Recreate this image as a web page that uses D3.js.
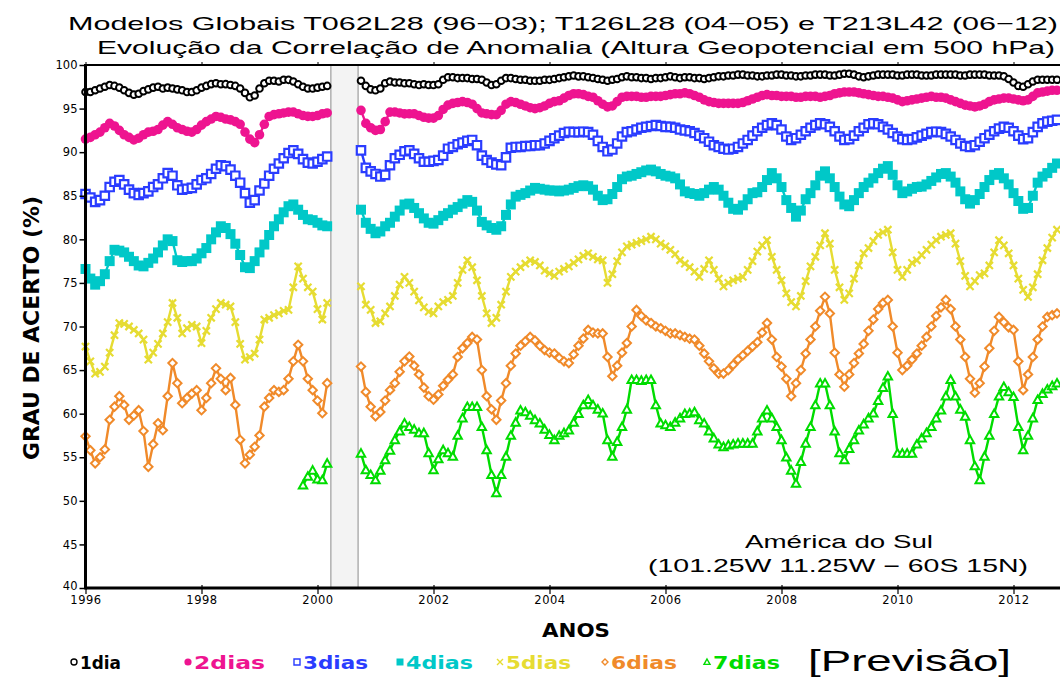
<!DOCTYPE html>
<html><head><meta charset="utf-8">
<script src="https://cdn.jsdelivr.net/npm/d3@7"></script>
<style>body{margin:0;background:#fff}</style>
</head><body>
<svg id="chart" width="1060" height="677"></svg>
<script>
// ---------- DATA ----------
const startYear = 1996;            // first monthly value = Jan 1996
const gapPeriod = [2000.23, 2000.70];
const xTicks = [1996, 1998, 2000, 2002, 2004, 2006, 2008, 2010, 2012];
const yTicks = [40, 45, 50, 55, 60, 65, 70, 75, 80, 85, 90, 95, 100];
const seriesNames = ["1dia", "2dias", "3dias", "4dias", "5dias", "6dias", "7dias"];
const GAP = [null, null, null, null, null, null]; // Apr-Sep 2000 missing

const dia1 = [
 96.9,96.9,97.1,97.3,97.5,97.7,97.6,97.4,97.1,96.8,96.6,96.7,
 97.0,97.2,97.4,97.5,97.3,97.4,97.3,97.2,97.1,96.9,96.9,97.1,
 97.4,97.6,97.8,97.9,97.8,97.8,97.7,97.6,97.3,96.8,96.3,96.5,
 97.3,97.9,98.2,98.2,98.1,98.3,98.3,98.1,97.8,97.5,97.3,97.3,
 97.4,97.5,97.6, ...GAP, 98.2,97.6,97.2,
 97.1,97.3,97.9,98.1,98.0,98.0,97.9,97.9,97.8,97.7,97.8,97.7,
 97.7,97.8,98.3,98.6,98.6,98.5,98.5,98.5,98.4,98.4,98.3,98.0,
 97.7,97.8,98.2,98.5,98.5,98.4,98.3,98.3,98.2,98.2,98.2,98.3,
 98.3,98.4,98.5,98.6,98.7,98.8,98.7,98.7,98.6,98.5,98.4,98.3,
 98.2,98.3,98.4,98.6,98.7,98.6,98.6,98.5,98.5,98.4,98.5,98.5,
 98.6,98.7,98.6,98.5,98.6,98.6,98.5,98.5,98.4,98.5,98.6,98.7,
 98.7,98.8,98.8,98.9,98.9,98.8,98.8,98.7,98.7,98.8,98.8,98.9,
 98.9,98.8,98.8,98.7,98.7,98.8,98.8,98.9,98.9,98.9,98.8,98.8,
 98.9,99.0,99.0,98.9,98.7,98.6,98.7,98.8,98.9,98.9,98.9,98.9,
 98.8,98.8,98.9,98.9,98.9,98.8,98.8,98.8,98.9,98.9,98.9,98.9,
 98.9,98.8,98.8,98.9,98.9,98.9,98.9,98.8,98.8,98.8,98.7,98.4,
 98.0,97.6,97.5,97.8,98.1,98.3,98.3,98.3,98.3,98.3
];
const dias2 = [
 91.5,91.7,92.0,92.3,92.8,93.3,93.0,92.5,92.0,91.7,91.4,91.6,
 92.0,92.3,92.4,92.6,93.1,93.5,93.2,92.8,92.6,92.4,92.3,92.6,
 93.1,93.5,93.8,94.1,94.0,93.8,93.7,93.5,93.2,92.3,91.5,91.1,
 92.0,93.2,94.1,94.3,94.4,94.5,94.6,94.6,94.4,94.2,94.1,94.1,
 94.2,94.4,94.5, ...GAP, 94.8,93.3,92.8,
 92.5,92.6,93.5,94.6,94.6,94.5,94.4,94.4,94.4,94.2,94.0,93.9,
 93.9,94.2,94.9,95.4,95.6,95.7,95.8,95.7,95.5,95.0,94.5,94.4,
 94.3,94.3,94.8,95.5,95.8,95.7,95.5,95.3,95.1,95.0,95.1,95.3,
 95.6,95.8,95.9,96.2,96.5,96.7,96.7,96.6,96.4,96.3,95.9,95.5,
 95.2,95.3,95.8,96.3,96.4,96.4,96.4,96.3,96.3,96.4,96.4,96.4,
 96.5,96.6,96.7,96.7,96.8,96.7,96.5,96.3,96.0,95.8,95.7,95.6,
 95.6,95.6,95.6,95.6,95.7,95.9,96.1,96.3,96.5,96.6,96.5,96.5,
 96.4,96.4,96.4,96.3,96.3,96.4,96.4,96.4,96.3,96.4,96.5,96.7,
 96.8,96.9,96.9,96.9,96.8,96.7,96.6,96.5,96.4,96.4,96.3,96.2,
 96.0,95.8,95.9,96.0,96.1,96.2,96.3,96.4,96.3,96.3,96.2,96.0,
 95.8,95.6,95.4,95.3,95.2,95.3,95.5,95.8,96.0,96.1,96.2,96.2,
 96.1,96.0,95.9,96.0,96.4,96.8,96.9,97.0,97.1,97.1
];
const dias3 = [
 85.2,84.8,84.3,84.5,85.0,86.0,86.6,86.8,86.3,85.7,85.3,85.1,
 85.3,85.5,86.0,86.3,87.0,87.6,87.3,86.2,85.7,85.8,85.9,86.3,
 86.8,87.0,87.5,88.1,88.5,88.4,88.0,87.3,86.5,85.3,84.2,84.5,
 85.6,86.4,87.3,88.1,88.7,89.3,89.9,90.2,89.8,89.2,88.8,88.7,
 88.9,89.2,89.5, ...GAP, 90.2,88.2,87.8,
 87.5,87.2,87.4,88.5,89.3,89.7,90.1,90.2,89.8,89.3,88.9,88.9,
 89.0,89.1,89.6,90.4,90.6,90.9,91.1,91.3,91.4,90.8,89.6,89.1,
 88.8,88.6,88.5,89.4,90.5,90.6,90.6,90.7,90.7,90.8,90.8,91.0,
 91.3,91.6,91.9,92.2,92.35,92.3,92.3,92.35,92.3,92.0,91.3,90.6,
 90.1,90.3,91.0,91.8,92.3,92.4,92.6,92.8,92.9,93.0,93.1,93.0,
 92.9,92.9,92.8,92.6,92.5,92.4,92.2,91.9,91.6,91.2,90.8,90.6,
 90.4,90.3,90.4,90.6,91.0,91.4,91.9,92.4,92.8,93.1,93.3,93.1,
 92.6,91.8,91.4,91.6,92.0,92.4,92.8,93.1,93.3,93.2,92.9,92.4,
 91.8,91.4,91.5,91.9,92.4,92.8,93.2,93.3,93.2,92.9,92.6,92.2,
 91.8,91.5,91.4,91.5,91.7,91.9,92.1,92.3,92.35,92.3,92.1,91.8,
 91.4,91.0,90.7,90.6,90.8,91.2,91.6,92.0,92.4,92.7,92.9,92.8,
 92.4,91.9,91.5,91.6,92.3,92.9,93.3,93.5,93.6,93.7
];
const dias4 = [
 76.6,75.5,74.8,75.2,76.0,77.5,78.8,78.7,78.5,78.0,77.5,77.0,
 76.9,77.3,77.8,78.5,79.3,80.0,79.8,77.6,77.4,77.5,77.5,77.8,
 78.4,79.0,80.0,80.8,81.5,81.3,80.6,79.5,78.2,76.8,76.7,77.5,
 78.5,79.4,80.5,81.5,82.3,83.1,83.8,84.0,83.4,82.8,82.3,82.2,
 81.9,81.6,81.5, ...GAP, 83.4,81.9,81.2,
 80.7,80.9,81.5,81.9,82.6,83.3,84.0,84.1,83.6,83.0,82.4,81.9,
 81.8,82.2,82.7,83.0,83.4,83.7,84.1,84.5,84.3,83.3,82.0,81.6,
 81.3,81.1,81.5,82.8,84.0,84.9,85.1,85.3,85.6,85.9,85.8,85.7,
 85.6,85.6,85.5,85.6,85.7,85.9,86.1,86.2,86.1,85.7,85.0,84.5,
 84.6,85.2,86.0,86.9,87.2,87.3,87.5,87.7,87.9,88.0,87.8,87.5,
 87.3,87.2,87.0,86.3,85.5,85.3,85.2,85.0,85.3,85.7,86.0,85.7,
 85.0,84.2,83.5,83.4,83.9,84.6,85.3,85.4,86.0,86.8,87.6,87.0,
 86.0,84.5,83.6,82.6,83.3,84.6,85.3,86.2,87.3,87.8,87.0,86.0,
 84.9,84.0,83.8,84.5,85.3,86.0,86.5,87.0,87.6,88.1,88.4,87.4,
 86.2,85.3,85.5,85.8,86.0,86.05,86.3,86.7,87.1,87.5,87.6,87.2,
 86.5,85.5,84.6,84.1,84.5,85.2,86.0,86.8,87.4,87.6,87.0,86.3,
 85.3,84.4,83.5,83.6,85.0,86.5,87.2,87.6,88.2,88.7
];
const dias5 = [
 67.7,66.0,64.6,64.8,65.4,67.0,69.0,70.4,70.3,70.0,69.6,69.2,
 68.5,66.2,67.0,68.0,69.2,70.5,72.7,71.0,69.2,69.8,70.2,70.0,
 68.1,69.5,71.0,72.0,72.7,72.5,72.3,70.5,68.0,66.2,66.5,66.9,
 68.5,70.8,71.0,71.3,71.5,71.8,71.9,74.5,76.9,75.5,74.5,74.0,
 72.0,70.8,72.7, ...GAP, 74.6,72.5,71.9,
 70.4,70.6,71.5,72.3,73.5,74.8,75.7,75.0,74.0,73.0,72.2,71.7,
 71.5,72.3,72.8,73.05,73.5,75.0,76.5,77.6,76.8,75.3,73.5,71.5,
 70.4,71.0,72.5,74.0,75.7,76.3,76.8,77.2,77.6,77.4,77.0,76.4,
 76.1,75.8,76.3,76.6,76.9,77.3,77.7,78.1,78.4,78.0,77.7,77.6,
 75.0,76.0,77.5,78.5,79.2,79.4,79.6,79.8,80.0,80.3,80.0,79.5,
 79.2,78.8,78.3,77.6,77.2,76.8,76.3,75.7,76.6,77.6,76.5,75.5,
 74.6,75.0,75.3,75.5,75.7,76.5,77.5,78.6,79.3,79.9,78.0,76.5,
 75.3,73.8,72.8,72.3,73.5,75.2,76.9,78.0,79.3,80.7,79.5,76.5,
 74.5,73.05,73.8,75.5,77.0,78.4,79.0,79.8,80.5,80.8,81.1,78.5,
 76.5,75.7,76.5,77.3,77.6,78.2,78.8,79.4,79.9,80.3,80.5,80.7,
 79.5,77.5,75.8,74.6,75.2,75.9,76.1,77.0,78.5,79.9,79.3,78.4,
 77.0,75.5,74.2,73.4,74.5,76.0,77.6,79.0,80.2,81.1
];
const dias6 = [
 57.4,55.8,54.3,55.0,55.9,59.3,60.8,62.0,61.0,59.3,59.8,60.4,
 58.0,53.9,56.5,58.9,58.1,62.0,65.8,63.5,61.2,61.8,62.3,62.7,
 60.4,61.8,63.5,65.2,64.0,62.7,64.1,61.0,57.0,54.3,55.3,56.2,
 57.5,60.8,61.8,62.7,62.5,62.7,64.0,66.0,67.9,66.0,64.0,62.7,
 61.5,60.05,63.5, ...GAP, 65.4,62.5,60.8,
 59.7,60.2,61.5,62.7,63.5,64.8,66.0,66.55,65.5,64.5,63.0,62.0,
 61.6,62.2,63.2,63.9,64.5,66.5,67.5,68.1,68.8,68.5,65.0,62.0,
 60.5,59.3,61.5,63.5,65.5,66.9,67.8,68.3,68.8,68.4,67.8,67.3,
 67.0,66.9,66.4,66.0,65.8,66.8,67.8,68.6,69.6,69.3,69.2,69.2,
 66.5,64.3,65.5,67.0,68.1,70.0,71.9,71.2,70.7,70.4,70.0,69.8,
 69.5,69.2,69.2,69.0,68.8,68.6,68.5,67.8,66.9,66.0,65.2,64.6,
 64.6,65.0,65.6,66.2,66.7,67.2,67.7,68.2,69.3,70.4,68.5,66.5,
 65.4,64.0,62.0,63.5,65.0,66.9,68.5,70.0,71.8,73.4,71.5,67.0,
 64.5,63.1,64.5,65.8,66.9,68.0,69.5,70.8,72.0,72.7,73.05,70.0,
 67.0,65.0,65.5,66.2,66.9,67.8,68.8,70.0,71.2,72.2,73.05,72.0,
 70.0,68.5,66.5,64.0,62.4,63.5,65.4,67.5,69.5,71.1,70.5,69.9,
 69.6,66.0,62.7,64.5,66.5,68.5,70.0,71.1,71.3,71.5
];
const dias7 = [
 ...Array(45).fill(null),           // no 7-day forecast before Oct 1999
 51.8,52.8,53.5,
 52.5,52.4,54.3, ...GAP, 55.45,53.55,53.0,
 52.4,53.5,54.7,55.8,57.0,58.0,58.9,58.5,58.2,57.8,57.8,55.5,
 53.55,54.8,55.85,55.5,55.1,57.5,59.5,60.8,60.8,60.8,58.5,55.85,
 53.0,50.9,53.0,55.1,57.5,59.0,60.4,60.2,59.8,59.3,58.9,58.2,
 57.6,57.0,57.5,57.8,58.1,59.0,60.0,61.0,61.6,61.0,60.5,60.05,
 57.0,55.1,56.8,58.5,60.5,63.9,63.9,63.8,63.9,63.9,61.0,58.9,
 58.7,58.5,59.0,59.5,60.0,60.05,60.2,59.3,58.9,58.0,57.2,56.5,
 56.2,56.4,56.5,56.6,56.6,56.6,56.6,58.0,59.5,60.4,59.5,58.5,
 57.0,55.0,53.5,52.0,54.5,56.6,58.5,61.0,63.5,63.5,61.0,58.0,
 55.5,54.7,56.0,57.0,58.1,58.8,59.5,60.05,61.5,63.0,64.3,60.0,
 55.45,55.45,55.45,55.45,56.5,57.2,57.8,58.5,59.5,60.4,62.0,63.9,
 62.0,60.5,59.7,57.0,54.0,52.4,55.1,57.5,60.0,62.0,63.1,62.5,
 61.95,58.5,55.85,57.5,59.5,61.6,62.3,62.8,63.2,63.5
];

const seriesValues = [dia1, dias2, dias3, dias4, dias5, dias6, dias7];
const seriesColors = ["#000000", "#ee1490", "#2a3cff", "#00c8c8", "#e6dc32", "#f08a2a", "#00dc00"];
const seriesMarkers = ["circle", "dot", "square", "fsquare", "times", "diamond", "triangle"];

// ---------- LAYOUT ----------
const svg = d3.select("#chart");
svg.append("rect").attr("width", 1060).attr("height", 677).attr("fill", "#fff");

const x = d3.scaleLinear().domain([1996, 2013]).range([85.5, 1071.5]);
const y = d3.scaleLinear().domain([40, 100]).range([588, 65]);

const TITLE_FONT = "'Liberation Sans', 'DejaVu Sans', sans-serif";

// gap band
svg.append("rect")
  .attr("x", x(gapPeriod[0])).attr("y", y(100))
  .attr("width", x(gapPeriod[1]) - x(gapPeriod[0])).attr("height", y(40) - y(100))
  .attr("fill", "#f3f3f3").attr("stroke", "#b4b4b4").attr("stroke-width", 1.6);

function markerPath(type, cx, cy, s) {
  switch (type) {
    case "circle":
    case "dot": return `M${cx + s},${cy}A${s},${s} 0 1,1 ${cx - s},${cy}A${s},${s} 0 1,1 ${cx + s},${cy}Z`;
    case "square":
    case "fsquare": return `M${cx - s},${cy - s}H${cx + s}V${cy + s}H${cx - s}Z`;
    case "times": return `M${cx - s},${cy - s}L${cx + s},${cy + s}M${cx - s},${cy + s}L${cx + s},${cy - s}`;
    case "diamond": return `M${cx},${cy - s}L${cx + s},${cy}L${cx},${cy + s}L${cx - s},${cy}Z`;
    case "triangle": return `M${cx},${cy - s}L${cx + s},${cy + s * 0.8}L${cx - s},${cy + s * 0.8}Z`;
  }
}
const markerStyle = {
  circle:   {size: 3.3, fill: "#fff", sw: 2.0},
  dot:      {size: 4.8, fill: null,   sw: 0},
  square:   {size: 4.2, fill: "#fff", sw: 2.2},
  fsquare:  {size: 5.0, fill: null,   sw: 0},
  times:    {size: 3.6, fill: "none", sw: 2.2},
  diamond:  {size: 4.2, fill: "#fff", sw: 2.0},
  triangle: {size: 4.2, fill: "#fff", sw: 2.0}
};

const plot = svg.append("g");
const line = d3.line()
  .defined(d => d.v != null)
  .x(d => x(d.t)).y(d => y(d.v));

seriesValues.forEach((vals, k) => {
  const pts = vals.map((v, i) => ({t: startYear + i / 12, v}));
  const color = seriesColors[k];
  const mk = seriesMarkers[k];
  const st = markerStyle[mk];
  const g = plot.append("g");
  g.append("path").datum(pts).attr("d", line)
    .attr("fill", "none").attr("stroke", color).attr("stroke-width", 2.4);
  g.selectAll("path.m").data(pts.filter(d => d.v != null)).join("path")
    .attr("class", "m")
    .attr("d", d => markerPath(mk, x(d.t), y(d.v), st.size))
    .attr("fill", st.fill === null ? color : st.fill)
    .attr("stroke", st.sw ? color : "none")
    .attr("stroke-width", st.sw);
});

// axes frame
const axisG = svg.append("g");
axisG.append("line").attr("x1", x(1996)).attr("x2", 1060).attr("y1", y(100)).attr("y2", y(100))
  .attr("stroke", "#000").attr("stroke-width", 2);
axisG.append("line").attr("x1", x(1996)).attr("x2", 1060).attr("y1", y(40)).attr("y2", y(40))
  .attr("stroke", "#000").attr("stroke-width", 3);
axisG.append("line").attr("x1", x(1996)).attr("x2", x(1996)).attr("y1", y(100) - 1).attr("y2", y(40) + 1.5)
  .attr("stroke", "#000").attr("stroke-width", 3);

// y axis ticks + labels
const yAxis = d3.axisLeft(y).tickValues(yTicks).tickSize(5).tickFormat(d3.format("d"));
const yg = svg.append("g").attr("transform", `translate(${x(1996) - 1},0)`).call(yAxis);
yg.select(".domain").remove();
yg.selectAll(".tick line").attr("stroke", "#000").attr("stroke-width", 1.5);
yg.selectAll(".tick text").attr("font-family", "'DejaVu Sans', sans-serif")
  .attr("font-size", 11.5).attr("fill", "#000").attr("x", -7);
yg.selectAll(".tick").filter(d => d === 40).select("text").attr("dy", "0.1em");

// x axis ticks + labels
const xAxis = d3.axisBottom(x).tickValues(xTicks).tickSize(5).tickFormat(d3.format("d"));
const xg = svg.append("g").attr("transform", `translate(0,${y(40) + 1})`).call(xAxis);
xg.select(".domain").remove();
xg.selectAll(".tick line").attr("stroke", "#000").attr("stroke-width", 1.2).attr("y1", -4);
xg.selectAll(".tick text").attr("font-family", "'DejaVu Sans', sans-serif")
  .attr("font-size", 11.5).attr("fill", "#000").attr("y", 7).attr("dy", "0.71em")
  .attr("letter-spacing", 0.5);

// top ticks
const xTop = d3.axisTop(x).tickValues(xTicks).tickSize(3).tickFormat("");
const tg = svg.append("g").attr("transform", `translate(0,${y(100)})`).call(xTop);
tg.select(".domain").remove();
tg.selectAll(".tick line").attr("stroke", "#000");

// titles
svg.append("text").attr("x", 68).attr("y", 30)
  .attr("font-family", TITLE_FONT).attr("font-size", 19).attr("fill", "#000")
  .attr("textLength", 990).attr("lengthAdjust", "spacingAndGlyphs")
  .text("Modelos Globais T062L28 (96−03); T126L28 (04−05) e T213L42 (06−12)");
svg.append("text").attr("x", 97).attr("y", 54)
  .attr("font-family", TITLE_FONT).attr("font-size", 19).attr("fill", "#000")
  .attr("textLength", 958).attr("lengthAdjust", "spacingAndGlyphs")
  .text("Evolução da Correlação de Anomalia (Altura Geopotencial em 500 hPa)");

// axis titles
svg.append("text").attr("transform", "translate(39,328) rotate(-90)")
  .attr("text-anchor", "middle")
  .attr("font-family", "'DejaVu Sans Condensed', 'DejaVu Sans', sans-serif")
  .attr("font-weight", "bold").attr("font-size", 22).attr("fill", "#000")
  .attr("textLength", 264).attr("lengthAdjust", "spacingAndGlyphs")
  .text("GRAU DE ACERTO (%)");
svg.append("text").attr("x", 576).attr("y", 637).attr("text-anchor", "middle")
  .attr("font-family", "'DejaVu Sans', sans-serif").attr("font-weight", "bold")
  .attr("font-size", 20).attr("fill", "#000")
  .attr("textLength", 68).attr("lengthAdjust", "spacingAndGlyphs")
  .text("ANOS");

// region annotation
svg.append("text").attr("x", 745).attr("y", 548)
  .attr("font-family", TITLE_FONT).attr("font-size", 18).attr("fill", "#000")
  .attr("textLength", 188).attr("lengthAdjust", "spacingAndGlyphs")
  .text("América do Sul");
svg.append("text").attr("x", 648).attr("y", 572)
  .attr("font-family", TITLE_FONT).attr("font-size", 18).attr("fill", "#000")
  .attr("textLength", 380).attr("lengthAdjust", "spacingAndGlyphs")
  .text("(101.25W 11.25W − 60S 15N)");

// legend
const legendX = [74, 188, 297, 400, 500, 605, 707];
const legendTextW = [41, 71, 65, 67, 65, 66, 67];
const lg = svg.append("g");
seriesNames.forEach((name, k) => {
  const mk = seriesMarkers[k];
  const st = markerStyle[mk];
  const color = seriesColors[k];
  lg.append("path")
    .attr("d", markerPath(mk, legendX[k], 662, mk === "fsquare" ? 3.5 : mk === "dot" ? 3.6 : 3))
    .attr("fill", st.fill === null ? color : (mk === "times" ? "none" : "#fff"))
    .attr("stroke", st.sw ? color : "none").attr("stroke-width", 1.4);
  lg.append("text").attr("x", legendX[k] + 6).attr("y", 669)
    .attr("font-family", "'DejaVu Sans', sans-serif").attr("font-weight", "bold")
    .attr("font-size", 17).attr("fill", color)
    .attr("textLength", legendTextW[k]).attr("lengthAdjust", "spacingAndGlyphs")
    .text(name);
});
svg.append("text").attr("x", 808).attr("y", 671)
  .attr("font-family", TITLE_FONT).attr("font-size", 29).attr("fill", "#000")
  .attr("textLength", 203).attr("lengthAdjust", "spacingAndGlyphs")
  .text("[Previsão]");
</script>
</body></html>
